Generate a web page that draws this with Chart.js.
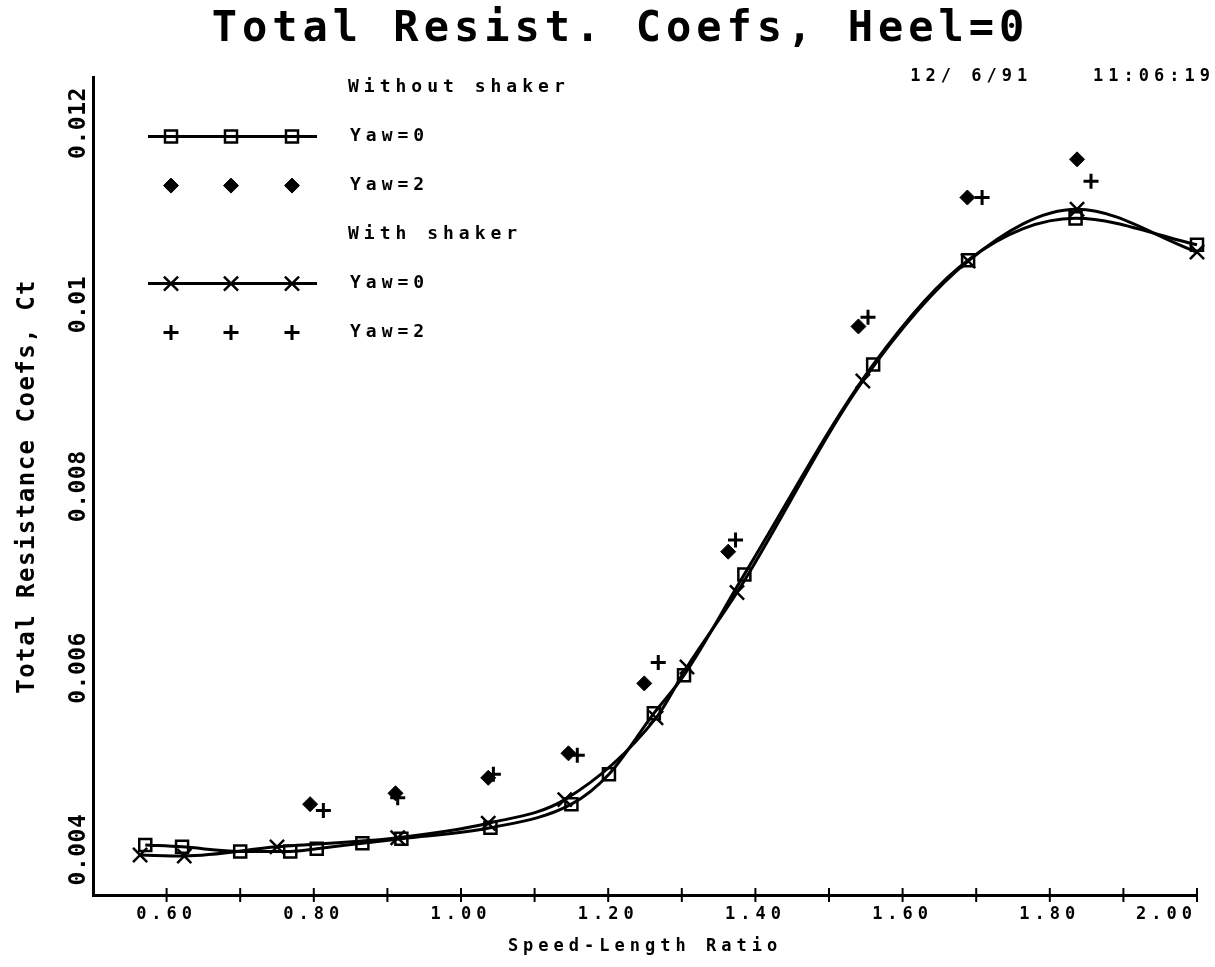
<!DOCTYPE html>
<html>
<head>
<meta charset="utf-8">
<title>Total Resist. Coefs, Heel=0</title>
<script src="https://cdn.jsdelivr.net/npm/chart.js@4.4.1/dist/chart.umd.min.js"></script>
<style>
  html, body { margin: 0; padding: 0; background: #fff; }
  #wrap { width: 1215px; height: 967px; }
</style>
</head>
<body>
<div id="wrap"><canvas id="resistChart"></canvas></div>
<script>
// speed-length ratio / Ct pairs
const noShakerYaw0X = [0.571, 0.621, 0.700, 0.768, 0.804, 0.866, 0.919, 1.040, 1.150, 1.201, 1.262, 1.303, 1.385, 1.560, 1.689, 1.835, 2.000];
const noShakerYaw0Y = [0.00405, 0.00403, 0.00398, 0.00398, 0.00401, 0.00407, 0.00412, 0.00424, 0.00450, 0.00483, 0.00550, 0.00592, 0.00703, 0.00934, 0.01049, 0.01095, 0.01066];

const noShakerYaw2X = [0.795, 0.911, 1.037, 1.146, 1.249, 1.363, 1.540, 1.688, 1.837];
const noShakerYaw2Y = [0.00450, 0.00462, 0.00479, 0.00506, 0.00583, 0.00728, 0.00976, 0.01118, 0.01160];

const shakerYaw0X = [0.564, 0.624, 0.750, 0.914, 1.037, 1.141, 1.265, 1.307, 1.375, 1.546, 1.689, 1.837, 2.000];
const shakerYaw0Y = [0.00394, 0.00393, 0.00403, 0.00413, 0.00429, 0.00455, 0.00545, 0.00601, 0.00683, 0.00916, 0.01048, 0.01105, 0.01058];

const shakerYaw2X = [0.813, 0.914, 1.044, 1.158, 1.268, 1.373, 1.553, 1.708, 1.856];
const shakerYaw2Y = [0.00443, 0.00457, 0.00483, 0.00504, 0.00606, 0.00741, 0.00986, 0.01118, 0.01136];

const xTickLabels = ['0.60', '0.80', '1.00', '1.20', '1.40', '1.60', '1.80', '2.00'];
const yTickValues = [0.004, 0.006, 0.008, 0.01, 0.012];
const yTickLabels = ['0.004', '0.006', '0.008', '0.01', '0.012'];
const legendGroups = ['Without shaker', 'With shaker'];

const FONT = "'DejaVu Sans Mono', 'Liberation Mono', monospace";

function pts(xs, ys) {
  return xs.map((x, i) => ({ x: x, y: ys[i] }));
}

// tick marks crossing the axes, rotated y labels, y title and the in-plot legend
const plotDecor = {
  id: 'plotDecor',
  beforeDraw(chart) {
    chart.ctx.letterSpacing = '5px';
  },
  afterDraw(chart) {
    const { ctx, chartArea, scales: { x, y } } = chart;
    ctx.save();
    ctx.strokeStyle = '#000';
    ctx.fillStyle = '#000';
    ctx.lineWidth = 2;

    x.ticks.forEach(t => {
      if (t.value < x.min + 0.05) return;
      const px = x.getPixelForValue(t.value);
      ctx.beginPath();
      ctx.moveTo(px, chartArea.bottom - 7);
      ctx.lineTo(px, chartArea.bottom + 7);
      ctx.stroke();
    });
    y.ticks.forEach(t => {
      const k = t.value / 0.001;
      if (Math.abs(k - Math.round(k)) > 1e-6) return;
      const py = y.getPixelForValue(t.value);
      ctx.beginPath();
      ctx.moveTo(chartArea.left - 7, py);
      ctx.lineTo(chartArea.left + 7, py);
      ctx.stroke();
    });

    ctx.textAlign = 'center';
    ctx.textBaseline = 'alphabetic';
    ctx.font = 'bold 23px ' + FONT;
    ctx.letterSpacing = '0.5px';
    yTickValues.forEach((v, i) => {
      ctx.save();
      ctx.translate(chartArea.left - 8, y.getPixelForValue(v));
      ctx.rotate(-Math.PI / 2);
      ctx.fillText(yTickLabels[i], 0, 0);
      ctx.restore();
    });

    ctx.font = 'bold 24px ' + FONT;
    ctx.letterSpacing = '1.5px';
    ctx.save();
    ctx.translate(34, (chartArea.top + chartArea.bottom) / 2);
    ctx.rotate(-Math.PI / 2);
    ctx.fillText('Total Resistance Coefs, Ct', 0, 0);
    ctx.restore();

    // legend
    const rows = [
      { text: legendGroups[0] },
      { ds: 0 }, { ds: 1 },
      { text: legendGroups[1] },
      { ds: 2 }, { ds: 3 }
    ];
    const left = chartArea.left;
    const textX = left + 255;
    ctx.font = 'bold 18px ' + FONT;
    ctx.letterSpacing = '5px';
    ctx.textAlign = 'left';
    ctx.textBaseline = 'middle';
    rows.forEach((row, i) => {
      const ry = chartArea.top + 10 + i * 49;
      if (row.ds === undefined) {
        ctx.fillText(row.text, textX, ry);
        return;
      }
      const ds = chart.data.datasets[row.ds];
      if (ds.showLine !== false) {
        ctx.lineWidth = ds.borderWidth;
        ctx.strokeStyle = ds.borderColor;
        ctx.beginPath();
        ctx.moveTo(left + 55, ry);
        ctx.lineTo(left + 224, ry);
        ctx.stroke();
      }
      [78, 138, 199].forEach(dx => {
        ctx.fillStyle = ds.pointBackgroundColor;
        ctx.strokeStyle = ds.pointBorderColor;
        ctx.lineWidth = ds.pointBorderWidth;
        Chart.helpers.drawPoint(ctx, {
          pointStyle: ds.pointStyle, radius: ds.pointRadius, rotation: 0, borderWidth: ds.pointBorderWidth
        }, left + dx, ry);
      });
      ctx.fillStyle = '#000';
      ctx.fillText(ds.label, textX + 2, ry);
    });
    ctx.restore();
  }
};

const ctx = document.getElementById('resistChart').getContext('2d');
const resistChart = new Chart(ctx, {
  type: 'line',
  data: {
    datasets: [
      {
        label: 'Yaw=0',
        data: pts(noShakerYaw0X, noShakerYaw0Y),
        borderColor: '#000',
        borderWidth: 3,
        cubicInterpolationMode: 'monotone',
        pointStyle: 'rect',
        pointRadius: 8.5,
        pointBorderWidth: 2.5,
        pointBorderColor: '#000',
        pointBackgroundColor: 'rgba(255,255,255,0)',
        clip: false
      },
      {
        label: 'Yaw=2',
        data: pts(noShakerYaw2X, noShakerYaw2Y),
        showLine: false,
        pointStyle: 'rectRot',
        pointRadius: 7.5,
        pointBorderWidth: 1,
        pointBorderColor: '#000',
        pointBackgroundColor: '#000',
        clip: false
      },
      {
        label: 'Yaw=0',
        data: pts(shakerYaw0X, shakerYaw0Y),
        borderColor: '#000',
        borderWidth: 3,
        cubicInterpolationMode: 'monotone',
        pointStyle: 'crossRot',
        pointRadius: 10,
        pointBorderWidth: 2.5,
        pointBorderColor: '#000',
        pointBackgroundColor: '#000',
        clip: false
      },
      {
        label: 'Yaw=2',
        data: pts(shakerYaw2X, shakerYaw2Y),
        showLine: false,
        pointStyle: 'cross',
        pointRadius: 7.5,
        pointBorderWidth: 3,
        pointBorderColor: '#000',
        pointBackgroundColor: '#000',
        clip: false
      }
    ]
  },
  options: {
    responsive: true,
    maintainAspectRatio: false,
    animation: false,
    events: [],
    layout: { padding: { left: 26, right: 0, top: 0, bottom: 0 } },
    plugins: {
      legend: { display: false },
      tooltip: { enabled: false },
      title: {
        display: true,
        text: 'Total Resist. Coefs, Heel=0',
        color: '#000',
        font: { family: FONT, size: 42, weight: 'bold' },
        padding: { top: 5, bottom: 0 }
      },
      subtitle: {
        display: true,
        text: '12/ 6/91    11:06:19',
        align: 'end',
        color: '#000',
        font: { family: FONT, size: 17, weight: 'bold' },
        padding: { top: 10.8, bottom: -9.0 }
      }
    },
    scales: {
      x: {
        type: 'linear',
        min: 0.5,
        max: 2.0,
        grid: { display: false, drawTicks: false },
        border: { display: true, color: '#000', width: 3 },
        ticks: {
          stepSize: 0.1,
          autoSkip: false,
          maxRotation: 0,
          align: 'inner',
          padding: 9,
          color: '#000',
          font: { family: FONT, size: 17, weight: 'bold' },
          callback: v => {
            const s = v.toFixed(2);
            return xTickLabels.includes(s) ? s : '';
          }
        },
        title: {
          display: true,
          text: 'Speed-Length Ratio',
          color: '#000',
          font: { family: FONT, size: 17, weight: 'bold' },
          padding: { top: 0, bottom: 10 }
        },
        afterFit: s => { s.height = 72; s.paddingLeft = 0; s.paddingRight = 18; }
      },
      y: {
        type: 'linear',
        min: 0.0035,
        max: 0.0125,
        grid: { display: false, drawTicks: false },
        border: { display: true, color: '#000', width: 3 },
        ticks: { display: false, stepSize: 0.001 },
        afterFit: s => { s.width = 67; s.paddingTop = 0; s.paddingBottom = 0; }
      }
    }
  },
  plugins: [plotDecor]
});
</script>
</body>
</html>
